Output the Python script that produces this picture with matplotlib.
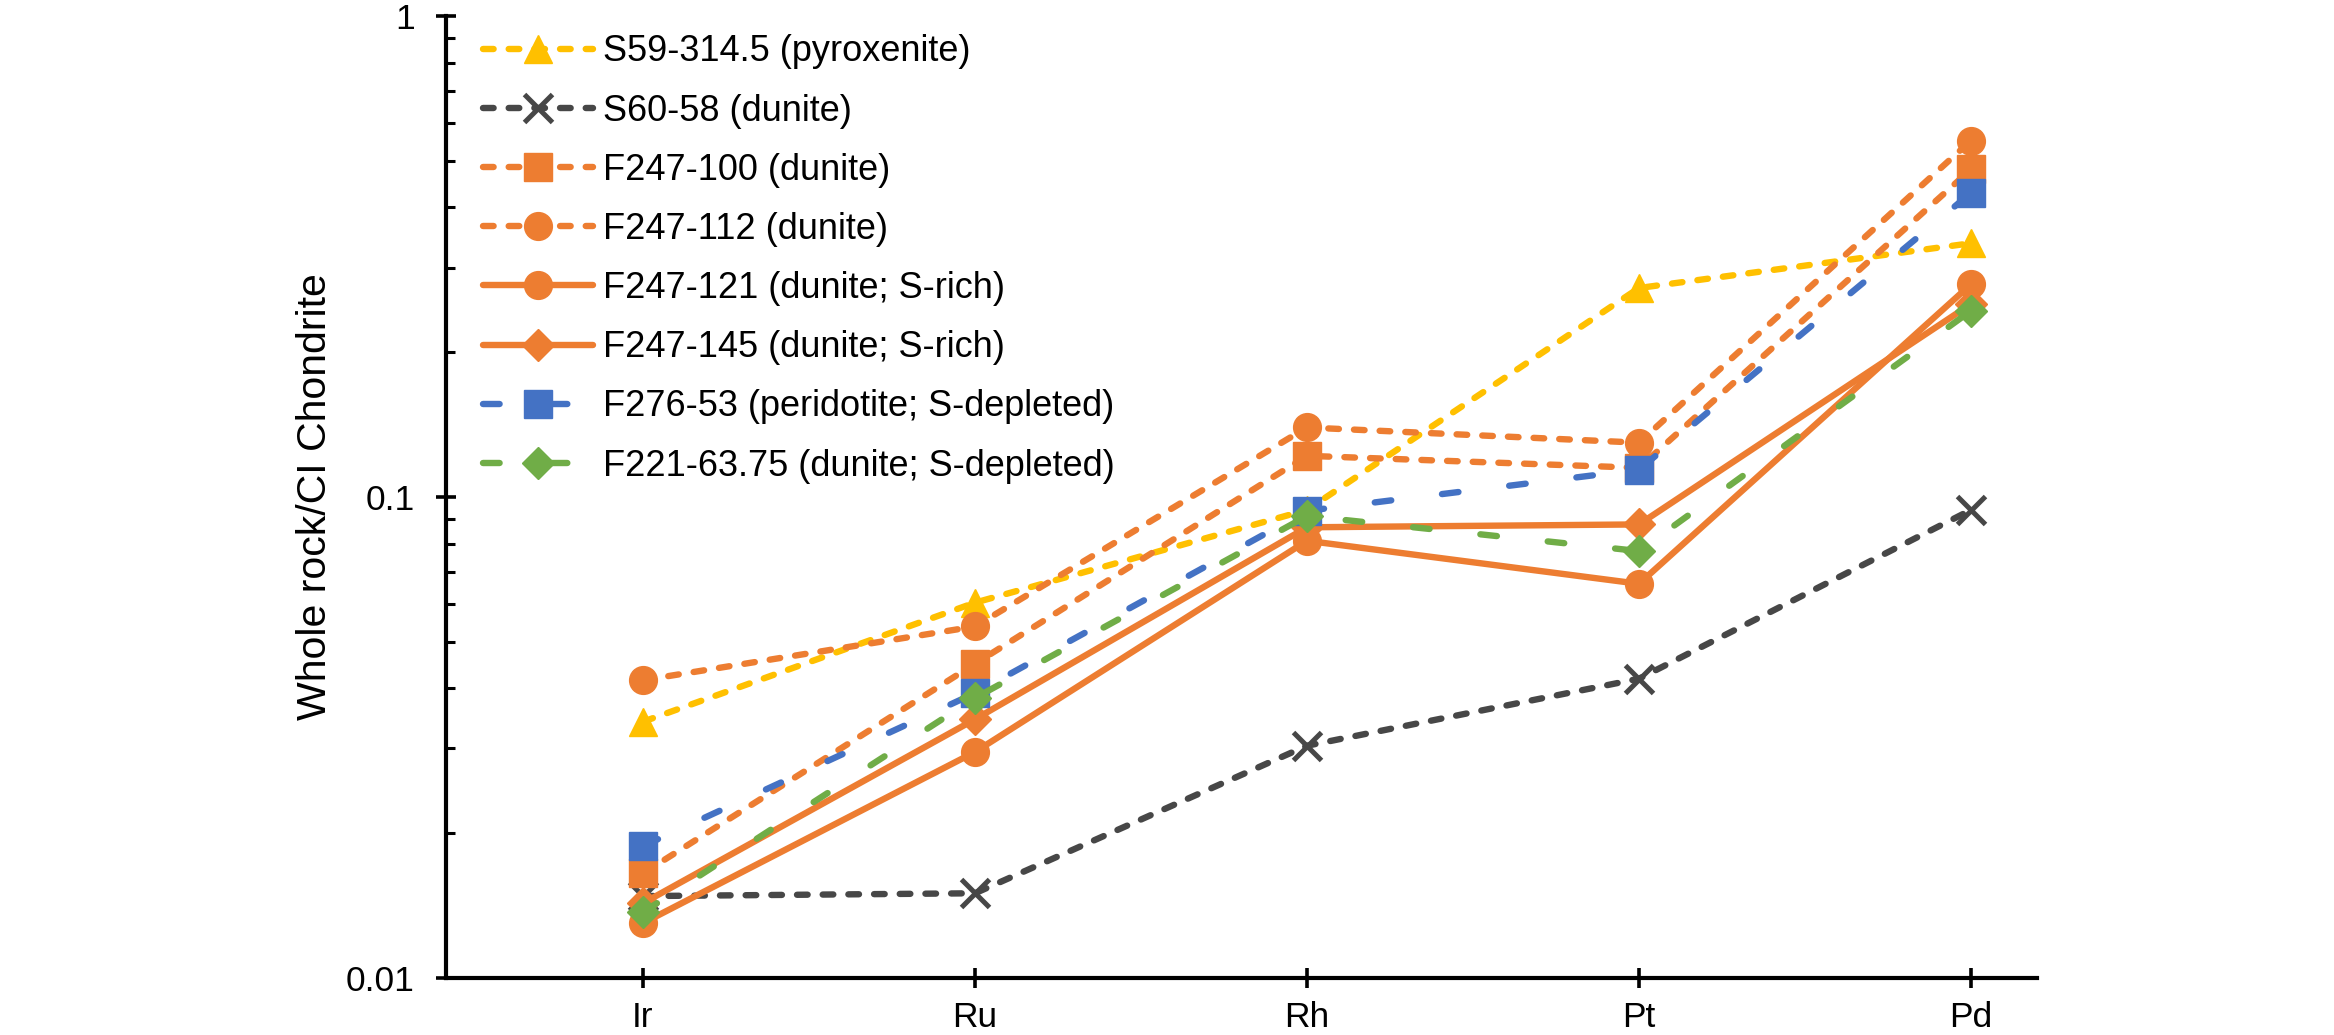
import numpy as np
import matplotlib
matplotlib.use("Agg")
import matplotlib.pyplot as plt
from matplotlib.ticker import FixedLocator, LogLocator, NullFormatter

plt.rcParams['font.family'] = ['Liberation Sans', 'DejaVu Sans']

elements = ["Ir", "Ru", "Rh", "Pt", "Pd"]

s59_314 = [0.0341, 0.0603, 0.094, 0.272, 0.337]
s60_58 = [0.0148, 0.0150, 0.0304, 0.0419, 0.0940]
f247_100 = [0.0165, 0.0450, 0.1218, 0.1150, 0.480]
f247_112 = [0.0416, 0.0538, 0.1395, 0.1297, 0.551]
f247_121 = [0.0130, 0.0295, 0.0811, 0.0660, 0.277]
f247_145 = [0.0143, 0.0345, 0.0865, 0.0877, 0.252]
f276_53 = [0.0188, 0.0391, 0.0936, 0.1140, 0.429]
f221_63 = [0.0137, 0.0382, 0.0913, 0.0772, 0.244]

labels = ["S59-314.5 (pyroxenite)", "S60-58 (dunite)", "F247-100 (dunite)",
          "F247-112 (dunite)", "F247-121 (dunite; S-rich)", "F247-145 (dunite; S-rich)",
          "F276-53 (peridotite; S-depleted)", "F221-63.75 (dunite; S-depleted)"]

yellow = "#FFC000"
grey = "#474747"
orange = "#ED7D31"
blue = "#4472C4"
green = "#70AD47"

short = (1.66, 2.36)
long_ = (2.6, 8.0)

fig = plt.figure(figsize=(23.34, 10.35), dpi=100)
ax = fig.add_axes([0.1911, 0.0551, 0.6817, 0.9294])
x = np.arange(len(elements))
lw = 4.6

series = [
    (s59_314, yellow, "^", 20, short),
    (s60_58, grey, "x", 20, short),
    (f247_100, orange, "s", 20, short),
    (f247_112, orange, "o", 20, short),
    (f247_121, orange, "o", 20, None),
    (f247_145, orange, "D", 16.5, None),
    (f276_53, blue, "s", 20, long_),
    (f221_63, green, "D", 16.5, long_),
]

for (vals, col, mk, ms, dash), lab in zip(series, labels):
    line, = ax.plot(x, vals, color=col, lw=lw, marker=mk, markersize=ms,
                    markerfacecolor=col, markeredgecolor=col,
                    markeredgewidth=3.6 if mk == "x" else 1,
                    label=lab, solid_capstyle="round", dash_capstyle="round")
    if dash is not None:
        line.set_dashes(dash)

ax.set_yscale("log")
ax.set_ylim(0.01, 1)
ax.set_xlim(-0.593, 4.199)
ax.yaxis.set_major_locator(FixedLocator([0.01, 0.1, 1]))
ax.set_yticklabels(["0.01", "0.1", "1"])
ax.yaxis.set_minor_locator(LogLocator(base=10, subs=np.arange(2, 10)))
ax.yaxis.set_minor_formatter(NullFormatter())
ax.set_xticks(x)
ax.set_xticklabels(elements)

for side in ["top", "right"]:
    ax.spines[side].set_visible(False)
for side in ["left", "bottom"]:
    ax.spines[side].set_linewidth(3)
    ax.spines[side].set_color("black")

ax.tick_params(axis="both", which="major", direction="inout", length=15, width=2.6,
               labelsize=25.5, colors="black")
ax.tick_params(axis="y", which="major", pad=15)
ax.tick_params(axis="x", which="major", pad=9)
ax.tick_params(axis="y", which="minor", direction="in", length=6.5, width=2.2)

ax.set_ylabel("Whole rock/CI Chondrite", fontsize=29.5)
ax.yaxis.set_label_coords(-0.0704, 0.5)

ax.legend(loc="upper left", bbox_to_anchor=(0.0233, 0.981), frameon=False,
          fontsize=26, handlelength=3.05, handletextpad=0.28, labelspacing=0.67,
          borderpad=0, borderaxespad=0, markerscale=1.0)

fig.savefig("out.png", dpi=100)
